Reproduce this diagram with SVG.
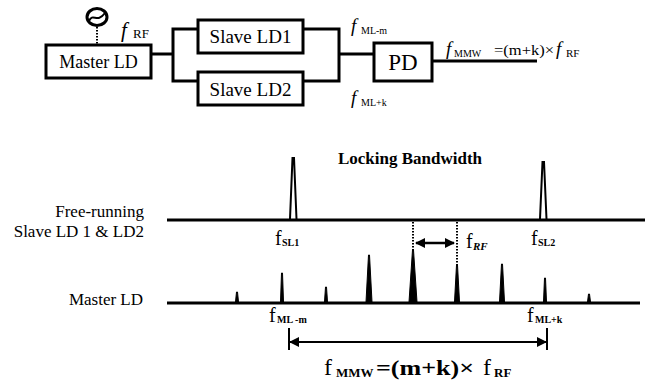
<svg xmlns="http://www.w3.org/2000/svg" width="649" height="380" viewBox="0 0 649 380" font-family="'Liberation Serif', 'DejaVu Serif', serif">
<defs>
<style>
.box{fill:#fff;stroke:#000;stroke-width:3}
.ln{fill:none;stroke:#000;stroke-width:3}
text{font-family:'Liberation Serif','DejaVu Serif',serif;fill:#000}
.it{font-style:italic}
.pk{fill:#000;stroke:#000;stroke-width:1}
.dot{stroke:#000;stroke-width:2;stroke-dasharray:1.5 1.5;fill:none}
</style>
<marker id="ah" viewBox="0 0 10 10" refX="9" refY="5" markerWidth="10" markerHeight="10" markerUnits="userSpaceOnUse" orient="auto-start-reverse">
<path d="M0,0 L10,5 L0,10 z" fill="#000"/>
</marker>
</defs>
<rect width="649" height="380" fill="#fff"/>

<g id="connectors">
<line class="dot" x1="97" y1="27" x2="97" y2="45"/>
<polyline class="ln" points="151,54 173,54"/>
<polyline class="ln" points="198,29 173,29 173,81 198,81"/>
<polyline class="ln" points="303,29 339,29 339,81 303,81"/>
<polyline class="ln" points="339,54 374,54"/>
<polyline class="ln" points="432,61 537,61"/>
</g>

<g id="oscillator">
<ellipse cx="97" cy="17" rx="10" ry="8.5" fill="#fff" stroke="#000" stroke-width="3"/>
<path d="M89,21 C93,12 97,24 105,13" fill="none" stroke="#000" stroke-width="2"/>
</g>

<g id="master-ld">
<rect class="box" x="46" y="45" width="105" height="33"/>
<text x="98.5" y="68" font-size="18" text-anchor="middle">Master LD</text>
</g>

<g id="slave-ld1">
<rect class="box" x="198" y="20" width="105" height="33"/>
<text x="250.5" y="43" font-size="19" text-anchor="middle">Slave LD1</text>
</g>

<g id="slave-ld2">
<rect class="box" x="198" y="72" width="105" height="33"/>
<text x="250.5" y="96" font-size="19" text-anchor="middle">Slave LD2</text>
</g>

<g id="pd">
<rect class="box" x="374" y="43" width="58" height="38"/>
<text x="403" y="70" font-size="23" text-anchor="middle">PD</text>
</g>

<g id="labels-top">
<text class="it" x="121" y="37" font-size="21">f</text>
<text x="133" y="38" font-size="13">RF</text>
<text class="it" x="351" y="32" font-size="19">f</text>
<text x="361" y="34" font-size="10">ML-m</text>
<text class="it" x="351" y="104" font-size="19">f</text>
<text x="361" y="106" font-size="10">ML+k</text>
<text class="it" x="446" y="55" font-size="19">f</text>
<text x="454" y="57" font-size="10">MMW</text>
<text x="494" y="55" font-size="15" textLength="60" lengthAdjust="spacingAndGlyphs">=(m+k)×</text>
<text class="it" x="556" y="55" font-size="19">f</text>
<text x="566" y="57" font-size="11">RF</text>
</g>

<g id="spectrum">
<text x="410" y="164" font-size="17" font-weight="bold" text-anchor="middle">Locking Bandwidth</text>
<text x="144" y="217" font-size="17" text-anchor="end">Free-running</text>
<text x="144" y="237" font-size="17" text-anchor="end">Slave LD 1 &amp; LD2</text>
<text x="143" y="305" font-size="17" text-anchor="end">Master LD</text>

<line class="ln" x1="167" y1="220" x2="645" y2="220" stroke-width="3.5"/>
<path d="M290,219 L292.5,158 L294,158 L296.5,219" fill="none" stroke="#000" stroke-width="2"/>
<path d="M540,219 L542.5,162 L544,162 L546.5,219" fill="none" stroke="#000" stroke-width="2"/>

<line class="ln" x1="167" y1="303" x2="640" y2="303" stroke-width="3.5"/>
<polygon class="pk" points="235.5,302 236.5,292 237.5,292 238.5,302"/>
<polygon class="pk" points="280.5,302 281.5,273 282.5,273 283.5,302"/>
<polygon class="pk" points="324.5,302 325.5,287 326.5,287 327.5,302"/>
<polygon class="pk" points="366,302 368.5,255 369.5,255 372,302"/>
<polygon class="pk" points="409,302 412.5,250 413.5,250 417,302"/>
<polygon class="pk" points="454.5,302 456.5,265 457.5,265 459.5,302"/>
<polygon class="pk" points="499.5,302 501.5,264 502.5,264 504.5,302"/>
<polygon class="pk" points="543.5,302 544.5,278 545.5,278 546.5,302"/>
<polygon class="pk" points="587.5,302 588.5,294 589.5,294 590.5,302"/>

<line class="dot" x1="413" y1="222" x2="413" y2="250"/>
<line class="dot" x1="457" y1="222" x2="457" y2="265"/>
<line x1="416" y1="243" x2="454" y2="243" stroke="#000" stroke-width="2.5" marker-start="url(#ah)" marker-end="url(#ah)"/>

<text x="275" y="245" font-size="20">f</text>
<text x="282" y="246" font-size="10" font-weight="bold">SL1</text>
<text x="531" y="245" font-size="20">f</text>
<text x="538" y="246" font-size="10" font-weight="bold">SL2</text>
<text x="466" y="248" font-size="20">f</text>
<text class="it" x="473" y="250" font-size="11" font-weight="bold">RF</text>
<text x="269" y="322" font-size="20">f</text>
<text x="277" y="323" font-size="10" font-weight="bold">ML -m</text>
<text x="527" y="322" font-size="20">f</text>
<text x="535" y="323" font-size="10" font-weight="bold">ML+k</text>

<line x1="289" y1="328" x2="289" y2="350" stroke="#000" stroke-width="2"/>
<line x1="547" y1="328" x2="547" y2="350" stroke="#000" stroke-width="2"/>
<line x1="290" y1="342" x2="546" y2="342" stroke="#000" stroke-width="2" marker-start="url(#ah)" marker-end="url(#ah)"/>

<text x="324" y="375" font-size="24">f</text>
<text x="336" y="377" font-size="13" font-weight="bold">MMW</text>
<text x="376" y="375" font-size="22" font-weight="bold" textLength="98" lengthAdjust="spacingAndGlyphs">=(m+k)×</text>
<text x="483" y="375" font-size="24">f</text>
<text x="494" y="377" font-size="13" font-weight="bold">RF</text>
</g>
</svg>
